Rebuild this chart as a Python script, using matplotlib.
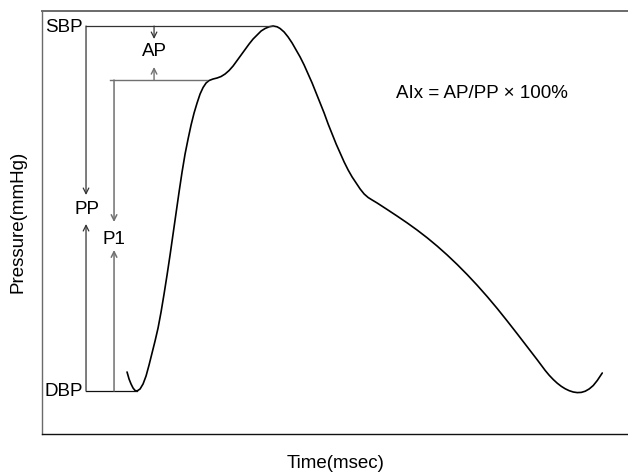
import matplotlib
matplotlib.use("Agg")
import matplotlib.pyplot as plt

plt.rcParams['font.family'] = ['Liberation Sans', 'DejaVu Sans']

# waveform: time (arbitrary units) and pixel row of the trace
time = [127, 129, 131, 133, 135, 137, 140, 143, 146, 149, 152, 155, 158, 161, 164, 167,
        170, 173, 176, 179, 182, 185, 188, 191, 194, 197, 200, 203, 206, 209, 213, 217,
        221, 225, 229, 233, 237, 241, 245, 249, 253, 257, 261, 265, 269, 273, 277, 280,
        284, 288, 292, 296, 300, 304, 308, 312, 316, 320, 324, 328, 332, 336, 340, 344,
        348, 352, 356, 360, 364, 368, 372, 377, 387, 397, 407, 417, 427, 437, 447,
        457, 467, 477, 487, 497, 507, 517, 527, 537, 545, 549, 553, 557, 561, 565, 569,
        573, 577, 581, 585, 589, 593, 597, 602]
pix_y = [372, 379, 384, 388, 390.5, 391, 389, 384, 376, 365, 353, 341, 328, 312, 294, 275,
         255, 234, 213, 192, 172, 154, 139, 125, 113, 103, 94, 87.5, 83, 80.5, 79, 78,
         76.5, 74, 70.5, 66, 60.5, 55, 49.5, 44, 39, 35, 31, 28.5, 26.8, 26, 26.8, 28.5,
         32, 37, 43, 50, 57, 65, 74, 83, 93, 103, 113, 124, 134, 144, 153, 162,
         170, 177, 183, 189, 194, 197.5, 200, 203, 209.5, 216.1, 222.9, 230.1, 237.8, 246.1, 255.0,
         264.5, 274.6, 285.3, 296.6, 308.5, 321.0, 333.8, 346.8, 359.8, 370.5, 375.3, 379.5, 383.2, 386.3, 388.8, 390.7,
         392.0, 392.6, 392.4, 391.2, 388.9, 385.5, 380.5, 373]
pressure = [434 - v for v in pix_y]

# key levels
SBP = 408
DBP = 43
P1 = 354
labels = ['SBP', 'DBP', 'PP', 'P1', 'AP']
formula = 'AIx = AP/PP × 100%'

fig = plt.figure(figsize=(6.28, 4.75), dpi=100)
ax = fig.add_axes([42/628, 41/475, 1 - 42/628 + 0.01, 423/475])
ax.set_xlim(42, 634)
ax.set_ylim(0, 423)
ax.set_xticks([])
ax.set_yticks([])
ax.spines['right'].set_visible(False)
ax.spines['left'].set_color('#6a6a6a')
ax.spines['top'].set_color('#6a6a6a')
ax.spines['top'].set_linewidth(1.4)
ax.spines['left'].set_linewidth(1.0)
ax.spines['bottom'].set_color('#111111')
ax.spines['bottom'].set_linewidth(1.0)

ax.plot(time, pressure, color='black', lw=1.2, solid_capstyle='round', solid_joinstyle='round')

fs = 13.5
dark = '#333333'
grey = '#707070'

# horizontal guide lines
ax.plot([86, 273], [SBP, SBP], color=dark, lw=0.9)
ax.plot([86, 137], [DBP, DBP], color='#111111', lw=0.9)
ax.plot([110, 207], [P1, P1], color=grey, lw=1.0)

ap_kw = dict(arrowstyle='->,head_length=0.4,head_width=0.2', shrinkA=0, shrinkB=0)

def arrow(x, y0, y1, color, lw):
    ax.annotate('', xy=(x, y1), xytext=(x, y0),
                arrowprops=dict(color=color, lw=lw, **ap_kw))

# PP
arrow(86, SBP, 239, dark, 0.9)
arrow(86, DBP, 210, dark, 0.9)
# P1
arrow(114, P1, 212, grey, 1.1)
arrow(114, DBP, 184, grey, 1.1)
# AP
arrow(154, SBP, 395, dark, 0.9)
arrow(154, P1, 367, grey, 1.0)

ax.text(83, SBP - 1, labels[0], ha='right', va='center', fontsize=fs)
ax.text(83, DBP - 1, labels[1], ha='right', va='center', fontsize=fs)
ax.text(87, 224, labels[2], ha='center', va='center', fontsize=fs)
ax.text(114, 195, labels[3], ha='center', va='center', fontsize=fs)
ax.text(154, 383, labels[4], ha='center', va='center', fontsize=fs)
ax.text(482, 340, formula, ha='center', va='center', fontsize=fs)

fig.text(18/628, 1 - 222/475, 'Pressure(mmHg)', rotation=90, ha='center', va='center', fontsize=fs)
fig.text(336/628, 1 - 463/475, 'Time(msec)', ha='center', va='center', fontsize=fs)

fig.savefig('out.png', dpi=100)
